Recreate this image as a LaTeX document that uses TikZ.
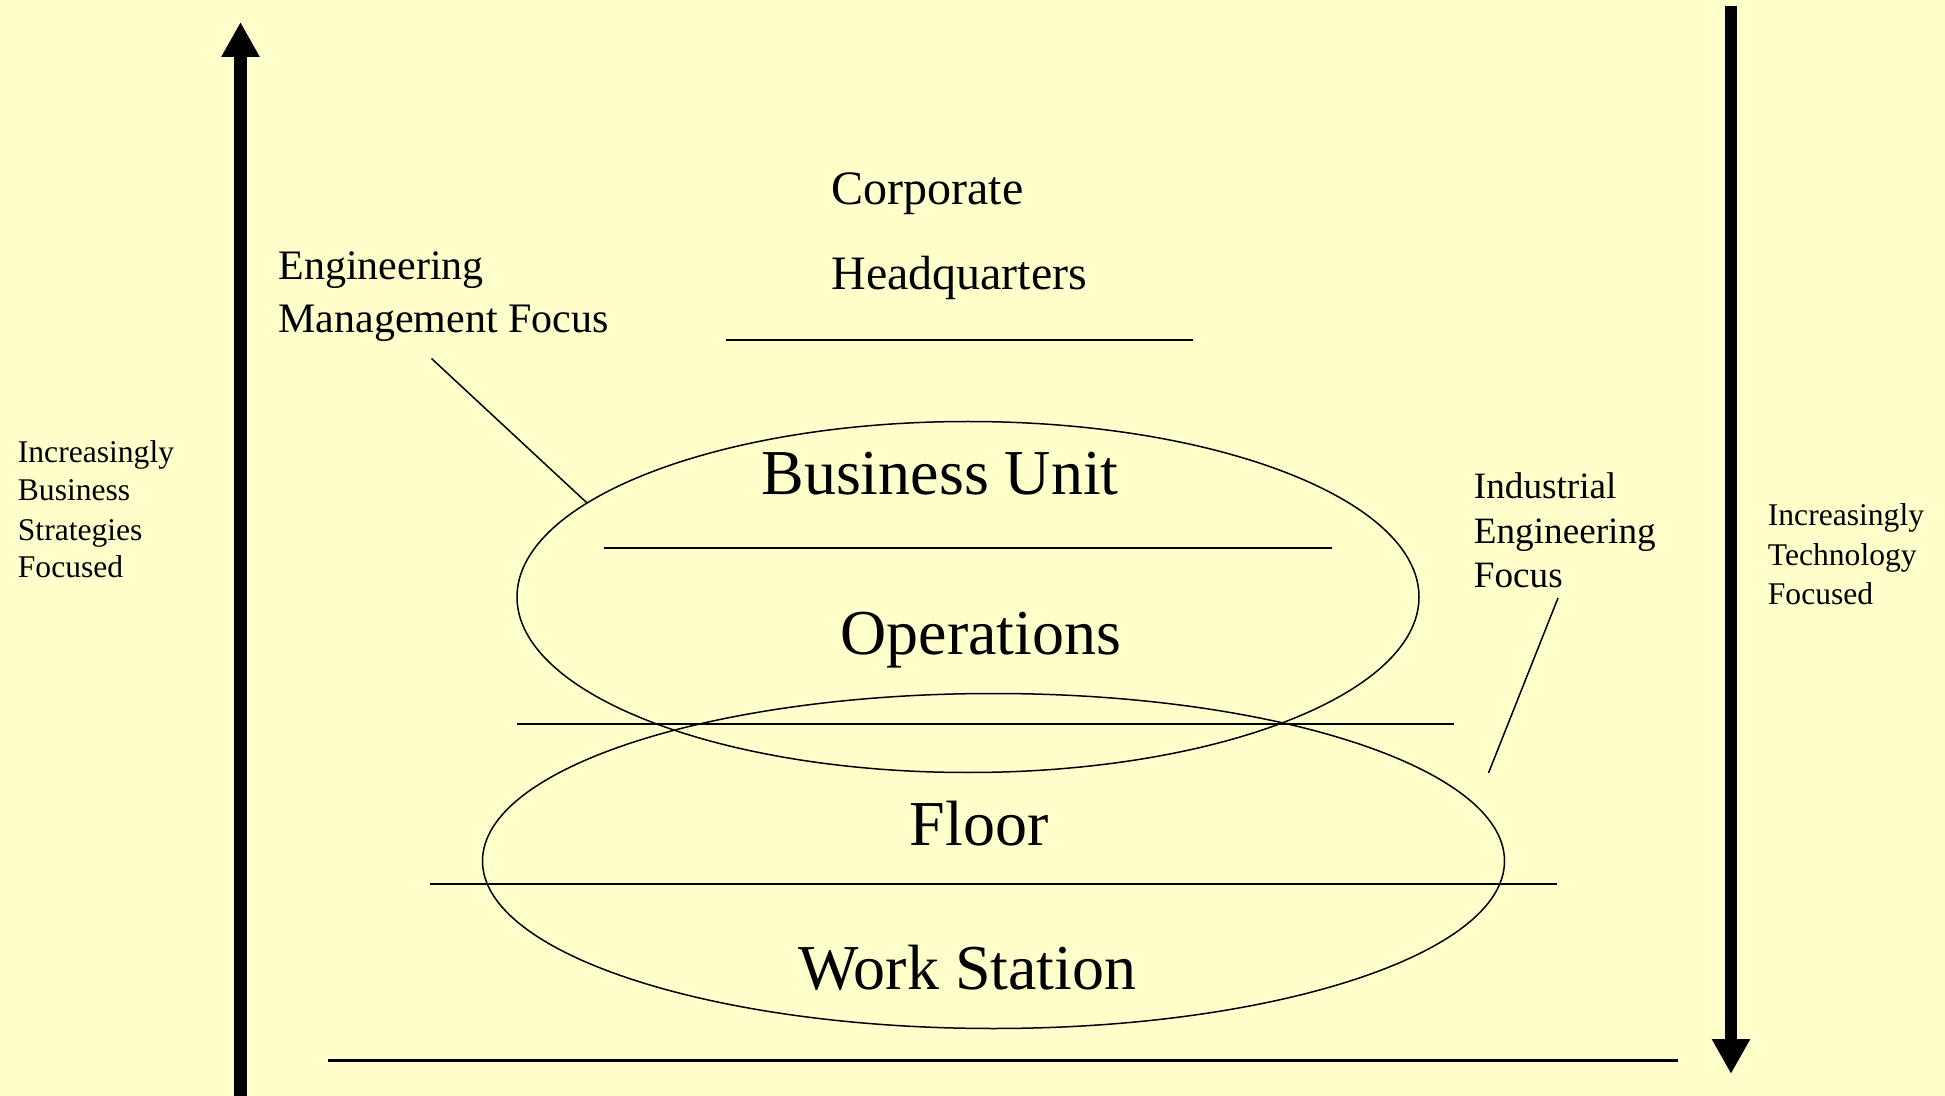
\documentclass[tikz,border=0pt]{standalone}
\usepackage{fontspec}
\setmainfont{Liberation Serif}
\usetikzlibrary{arrows.meta,shapes.geometric}
\definecolor{paper}{RGB}{255,255,204}
\newcommand{\fs}[1]{\fontsize{#1}{1.2\dimexpr#1\relax}\selectfont}
\tikzset{
  lbl/.style={anchor=base west, inner sep=0pt, font=#1},
  big/.style={anchor=base, inner sep=0pt, font=\fs{32pt}},
  level/.style={line width=1.25pt},
  leader/.style={line width=0.75pt},
  ring/.style={ellipse, draw, line width=0.75pt, inner sep=0pt},
  bigarrow/.style={line width=6.3pt, -{Triangle[length=17.5pt, width=18pt]}}
}
\begin{document}
\begin{tikzpicture}[x=0.5pt, y=-0.5pt]
  % page
  \fill[paper] (0,0) rectangle (1945,1096);
  \useasboundingbox (0,0) rectangle (1945,1096);

  % vertical arrows
  \coordinate (upfoot) at (240.5,1096);
  \coordinate (uptip)  at (240.5,22);
  \coordinate (dnfoot) at (1731,6);
  \coordinate (dntip)  at (1731,1074);
  \draw[bigarrow] (upfoot) -- (uptip);
  \draw[bigarrow] (dnfoot) -- (dntip);

  % ellipses
  \node[ring, minimum width=451pt, minimum height=175.5pt] (upper) at (968,597) {};
  \node[ring, minimum width=511pt, minimum height=167.5pt] (lower) at (993.5,861) {};

  % level lines
  \coordinate (l1a) at (726,340);   \coordinate (l1b) at (1193,340);
  \coordinate (l2a) at (604,548);   \coordinate (l2b) at (1332,548);
  \coordinate (l3a) at (517,724);   \coordinate (l3b) at (1454,724);
  \coordinate (l4a) at (430,884);   \coordinate (l4b) at (1557,884);
  \coordinate (l5a) at (327.5,1060.5); \coordinate (l5b) at (1678,1060.5);
  \draw[level] (l1a) -- (l1b);
  \draw[level] (l2a) -- (l2b);
  \draw[level] (l3a) -- (l3b);
  \draw[level] (l4a) -- (l4b);
  \draw[level] (l5a) -- (l5b);

  % level names
  \node[lbl=\fs{24pt}] (corp) at (831,205) {Corporate};
  \node[lbl=\fs{24pt}] (hq)   at (831,290) {Headquarters};
  \node[big] (bu)  at (940,495)   {Business Unit};
  \node[big] (ops) at (981,654)   {Operations};
  \node[big] (fl)  at (979,845)   {Floor};
  \node[big] (ws)  at (967.5,989) {Work Station};

  % focus labels
  \node[lbl=\fs{21pt}] (em1) at (278,280) {Engineering};
  \node[lbl=\fs{21pt}] (em2) at (278,332.5) {Management Focus};
  \node[lbl=\fs{18.6pt}] (ie1) at (1473.5,498.5) {Industrial};
  \node[lbl=\fs{18.6pt}] (ie2) at (1473.5,543.5) {Engineering};
  \node[lbl=\fs{18.6pt}] (ie3) at (1473.5,588) {Focus};

  % leader lines
  \coordinate (emhead) at (431.5,358.5);
  \coordinate (emfoot) at (586.5,502.5);
  \coordinate (iehead) at (1558,598);
  \coordinate (iefoot) at (1488.5,773);
  \draw[leader] (emhead) -- (emfoot);
  \draw[leader] (iehead) -- (iefoot);

  % axis captions
  \node[lbl=\fs{15.8pt}] (lb1) at (17.5,462.5) {Increasingly};
  \node[lbl=\fs{15.8pt}] (lb2) at (17.5,501)   {Business};
  \node[lbl=\fs{15.8pt}] (lb3) at (17.5,540.5) {Strategies};
  \node[lbl=\fs{15.8pt}] (lb4) at (17.5,578)   {Focused};
  \node[lbl=\fs{15.8pt}] (rt1) at (1767.5,526)   {Increasingly};
  \node[lbl=\fs{15.8pt}] (rt2) at (1767.5,565.5) {Technology};
  \node[lbl=\fs{15.8pt}] (rt3) at (1767.5,604)   {Focused};
\end{tikzpicture}
\end{document}
